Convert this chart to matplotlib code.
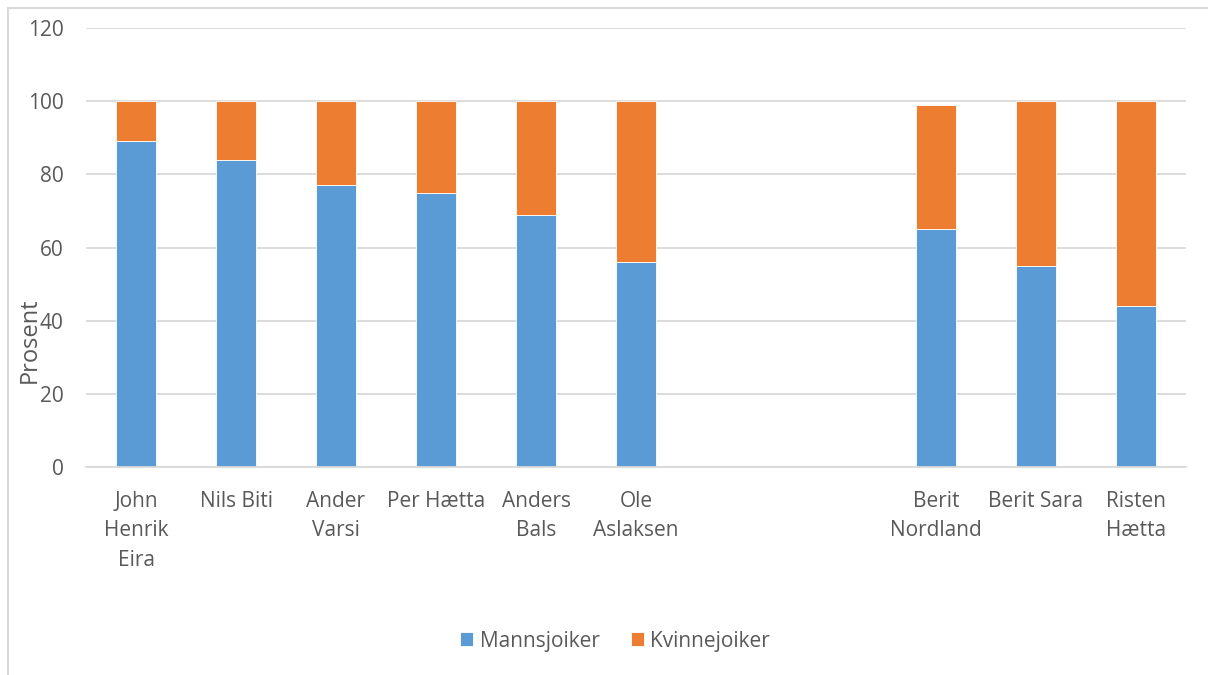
import matplotlib.pyplot as plt
from matplotlib.patches import Rectangle
import numpy as np

# singers; two blank slots separate the men from the women
names = ['John\nHenrik\nEira', 'Nils Biti', 'Ander\nVarsi', 'Per Hætta', 'Anders\nBals',
         'Ole\nAslaksen', '', '', 'Berit\nNordland', 'Berit Sara', 'Risten\nHætta']
mannsjoiker = [89, 84, 77, 75, 69, 56, np.nan, np.nan, 65, 55, 44]
kvinnejoiker = [11, 16, 23, 25, 31, 44, np.nan, np.nan, 34, 45, 56]
yticks = [0, 20, 40, 60, 80, 100, 120]

blue = '#5b9bd5'
orange = '#ed7d31'
text_col = '#595959'
grid_col = '#d9d9d9'

plt.rcParams['font.family'] = ['Open Sans', 'DejaVu Sans']

fig = plt.figure(figsize=(12.08, 6.75), dpi=100)
ax = fig.add_axes([86 / 1208, 1 - 467 / 675, 1100 / 1208, (467 - 28) / 675])

x = np.arange(len(names))
m = np.array(mannsjoiker, dtype=float)
k = np.array(kvinnejoiker, dtype=float)
ax.bar(x, m, width=0.4, color=blue, edgecolor='white', linewidth=0.6,
       label='Mannsjoiker', zorder=3)
ax.bar(x, k, width=0.4, bottom=m, color=orange, edgecolor='white', linewidth=0.6,
       label='Kvinnejoiker', zorder=3)

ax.set_xlim(-0.5, len(names) - 0.5)
ax.set_ylim(0, 120)
ax.set_yticks(yticks)
ax.yaxis.grid(True, color=grid_col, linewidth=1.3, zorder=0)
for s in ['top', 'right', 'left']:
    ax.spines[s].set_visible(False)
ax.spines['bottom'].set_color(grid_col)
ax.spines['bottom'].set_linewidth(1.3)
ax.spines['bottom'].set_zorder(4)

ax.set_xticks(x)
ax.set_xticklabels(names, linespacing=1.55, va='top')
ax.tick_params(axis='both', length=0, colors=text_col, labelsize=15)
ax.tick_params(axis='x', pad=17)
ax.tick_params(axis='y', pad=16)

ax.set_ylabel('Prosent', color=text_col, fontsize=17)
ax.yaxis.set_label_coords(-44 / 1100, (467 - 340) / 439)

leg = fig.legend(loc='center', bbox_to_anchor=(615 / 1208, 1 - 641 / 675), ncol=2,
                 frameon=False, fontsize=15, handlelength=0.65, handleheight=0.65,
                 handletextpad=0.3, columnspacing=1.5, labelcolor=text_col)

# light chart border
fig.add_artist(Rectangle((8 / 1208, -0.05), 1.2, 1 - 8 / 675 + 0.05,
                         transform=fig.transFigure, fill=False,
                         edgecolor=grid_col, linewidth=1.5))

fig.savefig('out.png', dpi=100, facecolor='white')
